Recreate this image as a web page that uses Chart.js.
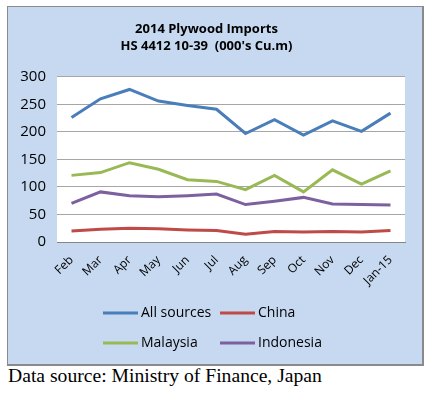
<!DOCTYPE html>
<html>
<head>
<meta charset="utf-8">
<script src="https://cdn.jsdelivr.net/npm/chart.js@4"></script>
<style>
  html, body { margin: 0; padding: 0; background: #fff; }
  body { width: 432px; height: 394px; position: relative; overflow: hidden; }
  #box {
    position: absolute; left: 7px; top: 6px; width: 414px; height: 357px;
    background: #c6d9f1; border: 1px solid #8a8a8a;
    border-right-width: 2px; border-bottom-width: 2px;
  }
  #box canvas { display: block; }
  #src {
    position: absolute; left: 8px; top: 366px;
    font-family: "Liberation Serif", "Times New Roman", serif;
    font-size: 18px; color: #000; white-space: nowrap;
    transform: scaleX(1.09); transform-origin: 0 0;
  }
</style>
</head>
<body>
<div id="box"><canvas id="c" width="414" height="357"></canvas></div>
<div id="src">Data source: Ministry of Finance, Japan</div>
<script>
  var months = ["Feb", "Mar", "Apr", "May", "Jun", "Jul", "Aug", "Sep", "Oct", "Nov", "Dec", "Jan-15"];
  var allSources = [226, 260, 277, 256, 248, 241, 197, 222, 194, 220, 201, 234];
  var china = [20, 23, 25, 24, 22, 21, 14, 19, 18, 19, 18, 21];
  var malaysia = [121, 126, 144, 132, 113, 110, 95, 121, 91, 131, 105, 129];
  var indonesia = [70, 91, 84, 82, 84, 87, 68, 74, 81, 69, 68, 67];
  var yTicks = [0, 50, 100, 150, 200, 250, 300];

  var FONT = "'Open Sans', 'DejaVu Sans', sans-serif";

  function line(label, data, color) {
    return {
      label: label,
      data: data,
      borderColor: color,
      backgroundColor: color,
      borderWidth: 3,
      pointRadius: 0,
      tension: 0,
      fill: false
    };
  }

  // legend in two fixed columns, like the spreadsheet one
  var gridLegend = {
    id: "gridLegend",
    afterDraw: function (chart) {
      var ctx = chart.ctx;
      var sets = chart.data.datasets;
      var cols = [95, 212];
      var rows = [306, 336];
      ctx.save();
      ctx.font = "14px " + FONT;
      ctx.textBaseline = "middle";
      ctx.fillStyle = "#000";
      for (var i = 0; i < sets.length; i++) {
        var x = cols[i % 2];
        var y = rows[Math.floor(i / 2)];
        ctx.strokeStyle = sets[i].borderColor;
        ctx.lineWidth = 3;
        ctx.beginPath();
        ctx.moveTo(x, y);
        ctx.lineTo(x + 35, y);
        ctx.stroke();
        ctx.fillText(sets[i].label, x + 38, y);
      }
      ctx.restore();
    }
  };

  new Chart(document.getElementById("c").getContext("2d"), {
    type: "line",
    data: {
      labels: months,
      datasets: [
        line("All sources", allSources, "#4a7ebb"),
        line("China", china, "#be4b48"),
        line("Malaysia", malaysia, "#98b954"),
        line("Indonesia", indonesia, "#7d60a0")
      ]
    },
    plugins: [gridLegend, {
      id: "plotBg",
      beforeDraw: function (chart) {
        var a = chart.chartArea;
        chart.ctx.save();
        chart.ctx.fillStyle = "#fff";
        chart.ctx.fillRect(a.left, a.top, a.right - a.left, a.bottom - a.top);
        chart.ctx.restore();
      }
    }],
    options: {
      responsive: false,
      animation: false,
      layout: { padding: { left: 0, right: 17, top: 0, bottom: 70 } },
      plugins: {
        legend: { display: false },
        tooltip: { enabled: false },
        title: {
          display: true,
          text: ["2014 Plywood Imports", "HS 4412 10-39  (000's Cu.m)"],
          color: "#000",
          font: { family: FONT, size: 13, weight: "bold", lineHeight: 1.3 },
          padding: { top: 14, bottom: 22 }
        }
      },
      scales: {
        x: {
          offset: true,
          afterFit: function (scale) { scale.height = 52; },
          grid: { display: false, drawTicks: false },
          border: { display: true, color: "#868686", width: 1 },
          ticks: {
            color: "#000",
            font: { family: FONT, size: 12 },
            minRotation: 45,
            maxRotation: 45,
            padding: 11,
            autoSkip: false
          }
        },
        y: {
          min: 0,
          max: 300,
          afterBuildTicks: function (scale) {
            scale.ticks = yTicks.map(function (v) { return { value: v }; });
          },
          afterFit: function (scale) { scale.width = 49; },
          grid: { color: "#a6a6a6", drawTicks: false },
          border: { display: false },
          ticks: {
            color: "#000",
            font: { family: FONT, size: 15 },
            padding: 11
          }
        }
      }
    }
  });
</script>
</body>
</html>
